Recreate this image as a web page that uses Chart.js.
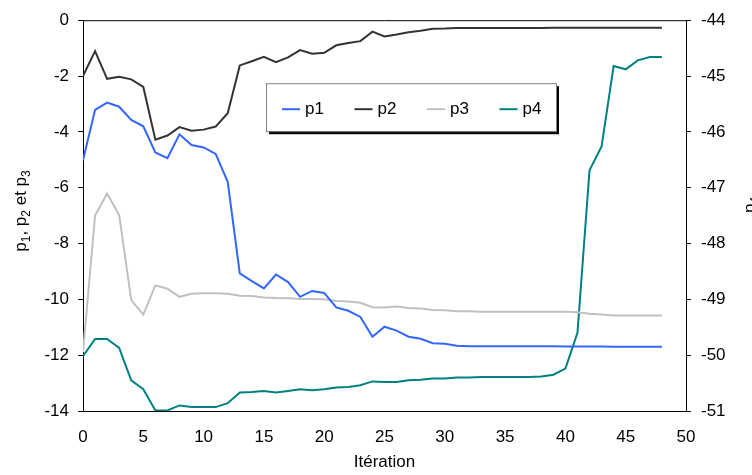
<!DOCTYPE html>
<html>
<head>
<meta charset="utf-8">
<script src="https://cdn.jsdelivr.net/npm/chart.js@4.4.1/dist/chart.umd.min.js"></script>
<style>
  html, body { margin: 0; padding: 0; background: #fff; }
</style>
</head>
<body>
<canvas id="chart" width="752" height="475"></canvas>
<script>
// --- DATA ---
const iterations = [0, 1, 2, 3, 4, 5, 6, 7, 8, 9, 10, 11, 12, 13, 14, 15, 16, 17, 18, 19, 20,
    21, 22, 23, 24, 25, 26, 27, 28, 29, 30, 31, 32, 33, 34, 35, 36, 37, 38, 39, 40,
    41, 42, 43, 44, 45, 46, 47, 48];

const p1 = [-5.02, -3.21, -2.95, -3.10, -3.57, -3.80, -4.74, -4.94, -4.09, -4.47, -4.56, -4.79, -5.79,
    -9.07, -9.35, -9.61, -9.11, -9.38, -9.91, -9.70, -9.77, -10.29, -10.41, -10.63, -11.34, -10.98,
    -11.12, -11.34, -11.41, -11.57, -11.59, -11.66, -11.68, -11.68, -11.68, -11.68, -11.68, -11.68,
    -11.68, -11.68, -11.69, -11.69, -11.69, -11.69, -11.70, -11.70, -11.70, -11.70, -11.70];

const p2 = [-2.00, -1.11, -2.10, -2.03, -2.12, -2.39, -4.28, -4.13, -3.83, -3.96, -3.92, -3.81, -3.33,
    -1.62, -1.47, -1.31, -1.50, -1.33, -1.07, -1.20, -1.17, -0.90, -0.82, -0.75, -0.41, -0.58,
    -0.51, -0.43, -0.38, -0.31, -0.30, -0.28, -0.28, -0.28, -0.28, -0.28, -0.28, -0.28, -0.28,
    -0.27, -0.27, -0.27, -0.27, -0.27, -0.27, -0.27, -0.27, -0.27, -0.27];

const p3 = [-11.89, -7.00, -6.21, -6.98, -10.03, -10.55, -9.50, -9.62, -9.91, -9.80, -9.78, -9.78, -9.80,
    -9.87, -9.88, -9.93, -9.95, -9.96, -9.99, -9.99, -10.00, -10.06, -10.08, -10.12, -10.28, -10.29,
    -10.26, -10.31, -10.33, -10.38, -10.39, -10.43, -10.43, -10.44, -10.44, -10.44, -10.44, -10.44,
    -10.44, -10.44, -10.44, -10.46, -10.52, -10.54, -10.58, -10.58, -10.58, -10.58, -10.58];

// p4 sits on the right axis
const p4 = [-50.02, -49.71, -49.71, -49.87, -50.45, -50.61, -50.99, -50.99, -50.90, -50.93, -50.93, -50.93,
    -50.86, -50.67, -50.66, -50.64, -50.67, -50.64, -50.61, -50.63, -50.61, -50.58, -50.57, -50.54,
    -50.47, -50.48, -50.48, -50.45, -50.44, -50.42, -50.42, -50.40, -50.40, -50.39, -50.39, -50.39,
    -50.39, -50.39, -50.38, -50.35, -50.24, -49.60, -46.69, -46.26, -44.82, -44.88, -44.72, -44.66, -44.66];

const seriesNames = ['p1', 'p2', 'p3', 'p4'];
const seriesColors = ['#3366ff', '#333333', '#c0c0c0', '#008080'];
const xTitle = 'Itération';
// axis titles as [text, isSubscript] pieces
const yTitleParts = [['p', false], ['1', true], [', p', false], ['2', true], [' et p', false], ['3', true]];
const y2TitleParts = [['p', false], ['4', true]];

const FONT = '"Liberation Sans", Arial, sans-serif';

function toPoints(values) {
    return values.map((v, i) => ({ x: iterations[i], y: v }));
}

// vertical title with subscripts, read bottom to top
function drawSubTitle(ctx, parts, baseX, centerY) {
    const big = '17px ' + FONT, small = '12px ' + FONT;
    let total = 0;
    parts.forEach(([t, sub]) => { ctx.font = sub ? small : big; total += ctx.measureText(t).width; });
    ctx.save();
    ctx.translate(baseX, centerY);
    ctx.rotate(-Math.PI / 2);
    ctx.fillStyle = '#000';
    ctx.textBaseline = 'alphabetic';
    let pos = -total / 2;
    parts.forEach(([t, sub]) => {
        ctx.font = sub ? small : big;
        ctx.fillText(t, pos, sub ? 4 : 0);
        pos += ctx.measureText(t).width;
    });
    ctx.restore();
}

// top edge of the plot frame + y titles
const frameTop = {
    id: 'frameTop',
    afterDraw(chart) {
        const { ctx, chartArea } = chart;
        ctx.save();
        ctx.strokeStyle = '#000';
        ctx.lineWidth = 1;
        ctx.beginPath();
        ctx.moveTo(chartArea.left, chartArea.top + 0.5);
        ctx.lineTo(chartArea.right, chartArea.top + 0.5);
        ctx.stroke();
        ctx.restore();
        drawSubTitle(ctx, yTitleParts, 26, 211);
        drawSubTitle(ctx, y2TitleParts, chart.width + 3, 205);
    }
};

// legend box inside the plot, with a black drop shadow
const boxLegend = {
    id: 'boxLegend',
    afterDraw(chart) {
        const { ctx, chartArea } = chart;
        const x = chartArea.left + 183, y = chartArea.top + 63, w = 290, h = 48;
        ctx.save();
        ctx.fillStyle = '#000';
        ctx.fillRect(x + 3, y + 3, w, h);
        ctx.fillStyle = '#fff';
        ctx.fillRect(x, y, w, h);
        ctx.strokeStyle = '#808080';
        ctx.lineWidth = 1;
        ctx.strokeRect(x + 0.5, y + 0.5, w, h);
        ctx.font = '17px ' + FONT;
        ctx.textBaseline = 'middle';
        chart.data.datasets.forEach((ds, i) => {
            const ex = x + 16 + i * 72.5;
            const ey = y + h / 2 + 2;
            ctx.strokeStyle = ds.borderColor;
            ctx.lineWidth = 2;
            ctx.beginPath();
            ctx.moveTo(ex, ey);
            ctx.lineTo(ex + 18, ey);
            ctx.stroke();
            ctx.fillStyle = '#000';
            ctx.fillText(ds.label, ex + 23, ey);
        });
        ctx.restore();
    }
};

const datasets = [p1, p2, p3, p4].map((vals, i) => ({
    label: seriesNames[i],
    data: toPoints(vals),
    borderColor: seriesColors[i],
    backgroundColor: seriesColors[i],
    borderWidth: 2,
    pointRadius: 0,
    tension: 0,
    yAxisID: i === 3 ? 'y2' : 'y'
}));

new Chart(document.getElementById('chart'), {
    type: 'line',
    data: { datasets: datasets },
    plugins: [frameTop, boxLegend],
    options: {
        responsive: false,
        animation: false,
        layout: { padding: { top: 17, left: 0, right: 0, bottom: 0 } },
        plugins: { legend: { display: false }, tooltip: { enabled: false } },
        scales: {
            x: {
                type: 'linear', min: 0, max: 50,
                ticks: { stepSize: 5, color: '#000', font: { family: FONT, size: 17 }, padding: 16, maxRotation: 0 },
                grid: { drawOnChartArea: false, drawTicks: false },
                border: { color: '#000', width: 1 },
                title: { display: true, text: xTitle, color: '#000', font: { family: FONT, size: 17 }, padding: { top: 0, bottom: 2 } },
                afterFit: (s) => { s.height = 64; }
            },
            y: {
                position: 'left', min: -14, max: 0,
                ticks: { stepSize: 2, color: '#000', font: { family: FONT, size: 17 }, padding: 9 },
                grid: { drawOnChartArea: false, tickLength: 5, color: '#000' },
                border: { color: '#000', width: 1 },
                afterFit: (s) => { s.width = 83; }
            },
            y2: {
                position: 'right', min: -51, max: -44,
                ticks: { stepSize: 1, color: '#000', font: { family: FONT, size: 17 }, padding: 10 },
                grid: { drawOnChartArea: false, tickLength: 5, color: '#000' },
                border: { color: '#000', width: 1 },
                afterFit: (s) => { s.width = 66; }
            }
        }
    }
});
</script>
</body>
</html>
